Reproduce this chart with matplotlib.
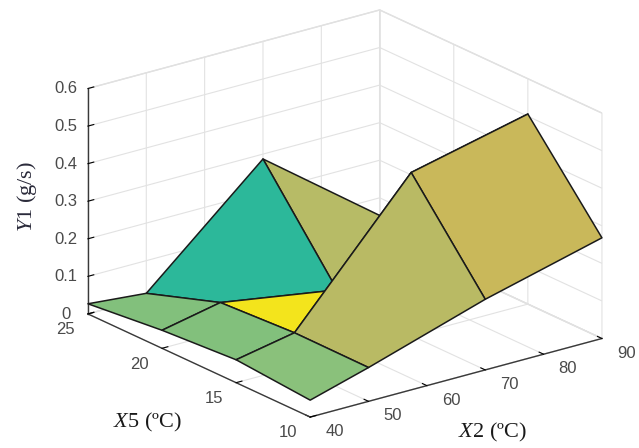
import numpy as np
import matplotlib
matplotlib.use("Agg")
import matplotlib.pyplot as plt
from mpl_toolkits.mplot3d import proj3d

# ---------------- data ----------------
x2_vals = [40, 50, 70, 90]          # X2 (ºC)
x5_vals = [10, 15, 20, 25]          # X5 (ºC)
# Y1 (g/s), rows follow x5_vals, columns follow x2_vals
y1_row_x5_10 = [0.045, 0.090, 0.188, 0.268]
y1_row_x5_15 = [0.061, 0.091, 0.434, 0.506]
y1_row_x5_20 = [0.048, 0.080, 0.030, 0.050]
y1_row_x5_25 = [0.027, 0.013, 0.287, 0.053]

# face colours (face between row r..r+1 and column c..c+1)
face_row_x5_10 = ["#8ac17b", "#b9ba64", "#c9b85a"]
face_row_x5_15 = ["#82c07c", "#f3e41c", "#b7bb66"]
face_row_x5_20 = ["#82c07c", "#2cb89a", "#b7bb66"]

x2_ticks = [40, 50, 60, 70, 80, 90]
x5_ticks = [10, 15, 20, 25]
y1_ticks = [0, 0.1, 0.2, 0.3, 0.4, 0.5, 0.6]
y1_tick_labels = ["0", "0.1", "0.2", "0.3", "0.4", "0.5", "0.6"]

# ---------------- style ----------------
W, H = 639, 448
plt.rcParams["grid.color"] = "#e2e2e2"
plt.rcParams["grid.linewidth"] = 0.8
plt.rcParams["mathtext.fontset"] = "custom"
plt.rcParams["mathtext.it"] = "Liberation Serif:italic"
plt.rcParams["mathtext.rm"] = "Liberation Serif"

fig = plt.figure(figsize=(W / 100, H / 100), dpi=100)
ax = fig.add_axes([0.1, 0.1, 0.8, 0.8], projection="3d", proj_type="ortho")
ax.view_init(elev=20.7, azim=-127.3)
ax.set_box_aspect((1, 1, 0.657))

X, Y = np.meshgrid(x2_vals, x5_vals)
Z = np.array([y1_row_x5_10, y1_row_x5_15, y1_row_x5_20, y1_row_x5_25])
fc_rows = [face_row_x5_10, face_row_x5_15, face_row_x5_20]
fcols = np.zeros(Z.shape + (4,))
for r, row in enumerate(fc_rows):
    for c, col in enumerate(row):
        fcols[r, c] = matplotlib.colors.to_rgba(col)

ax.plot_surface(X, Y, Z, facecolors=fcols, edgecolor="#1a1a1a",
                linewidth=1.1, shade=False, rstride=1, cstride=1,
                antialiased=True)

ax.set_xlim(40, 90)
ax.set_ylim(10, 25)
ax.set_zlim(0, 0.6)
ax.set_xticks(x2_ticks)
ax.set_yticks(x5_ticks)
ax.set_zticks(y1_ticks)
ax.set_zticklabels(y1_tick_labels)

for axis in (ax.xaxis, ax.yaxis, ax.zaxis):
    axis.set_pane_color((1, 1, 1, 1))
    axis.pane.set_edgecolor("#dcdcdc")
    axis.line.set_color("#3a3a3a")
    axis.line.set_linewidth(1.0)
    axis._axinfo["tick"]["inward_factor"] = 0.0
    axis._axinfo["tick"]["outward_factor"] = 0.25
    axis._axinfo["tick"]["color"] = "#3a3a3a"
    for lab in axis.get_ticklabels():
        lab.set_fontfamily("Liberation Sans")
        lab.set_fontsize(12)
        lab.set_color("#4a4a4a")

for lab in ax.xaxis.get_ticklabels():
    lab.set_horizontalalignment("left")
    lab.set_verticalalignment("bottom")
for lab in ax.yaxis.get_ticklabels():
    lab.set_verticalalignment("bottom")
for lab in ax.zaxis.get_ticklabels():
    lab.set_verticalalignment("center_baseline")

ax.tick_params(axis="x", pad=6)
ax.tick_params(axis="y", pad=8)
ax.tick_params(axis="z", pad=1)

# ---------- fit the projected box onto the reference layout ----------
targets_img = np.array([[88, 314], [310, 417], [602, 338], [88, 89]], float)
targets = np.column_stack([targets_img[:, 0], H - targets_img[:, 1]])
corners = [(40, 25, 0), (40, 10, 0), (90, 10, 0), (40, 25, 0.6)]


def project():
    fig.canvas.draw()
    M = ax.get_proj()
    out = []
    for (a, b, c) in corners:
        xs, ys, _ = proj3d.proj_transform(a, b, c, M)
        out.append(ax.transData.transform((xs, ys)))
    return np.array(out)


for _ in range(3):
    pts = project()
    bb = ax.get_position().transformed(fig.transFigure)
    S0 = min(bb.width, bb.height)
    cax = np.array([bb.x0 + bb.width / 2, bb.y0 + bb.height / 2])
    span_now = pts[:, 0].max() - pts[:, 0].min()
    span_tgt = targets[:, 0].max() - targets[:, 0].min()
    s = span_tgt / span_now
    d = pts.mean(axis=0) - cax
    cnew = targets.mean(axis=0) - s * d
    S1 = S0 * s
    ax.set_position([(cnew[0] - S1 / 2) / W, (cnew[1] - S1 / 2) / H, S1 / W, S1 / H])

# ---------------- axis labels ----------------
fig.text(147, H - 422, r"$\it{X5}$ (ºC)", transform=None, fontsize=16,
         color="#1a1a1a", ha="center", va="center", fontfamily="Liberation Serif")
fig.text(492, H - 432, r"$\it{X2}$ (ºC)", transform=None, fontsize=16,
         color="#1a1a1a", ha="center", va="center", fontfamily="Liberation Serif")
fig.text(27, H - 197, r"$\it{Y1}$ (g/s)", transform=None, fontsize=16,
         color="#2a2a3a", ha="center", va="center", rotation=90,
         fontfamily="Liberation Serif")

fig.savefig("out.png", dpi=100)
